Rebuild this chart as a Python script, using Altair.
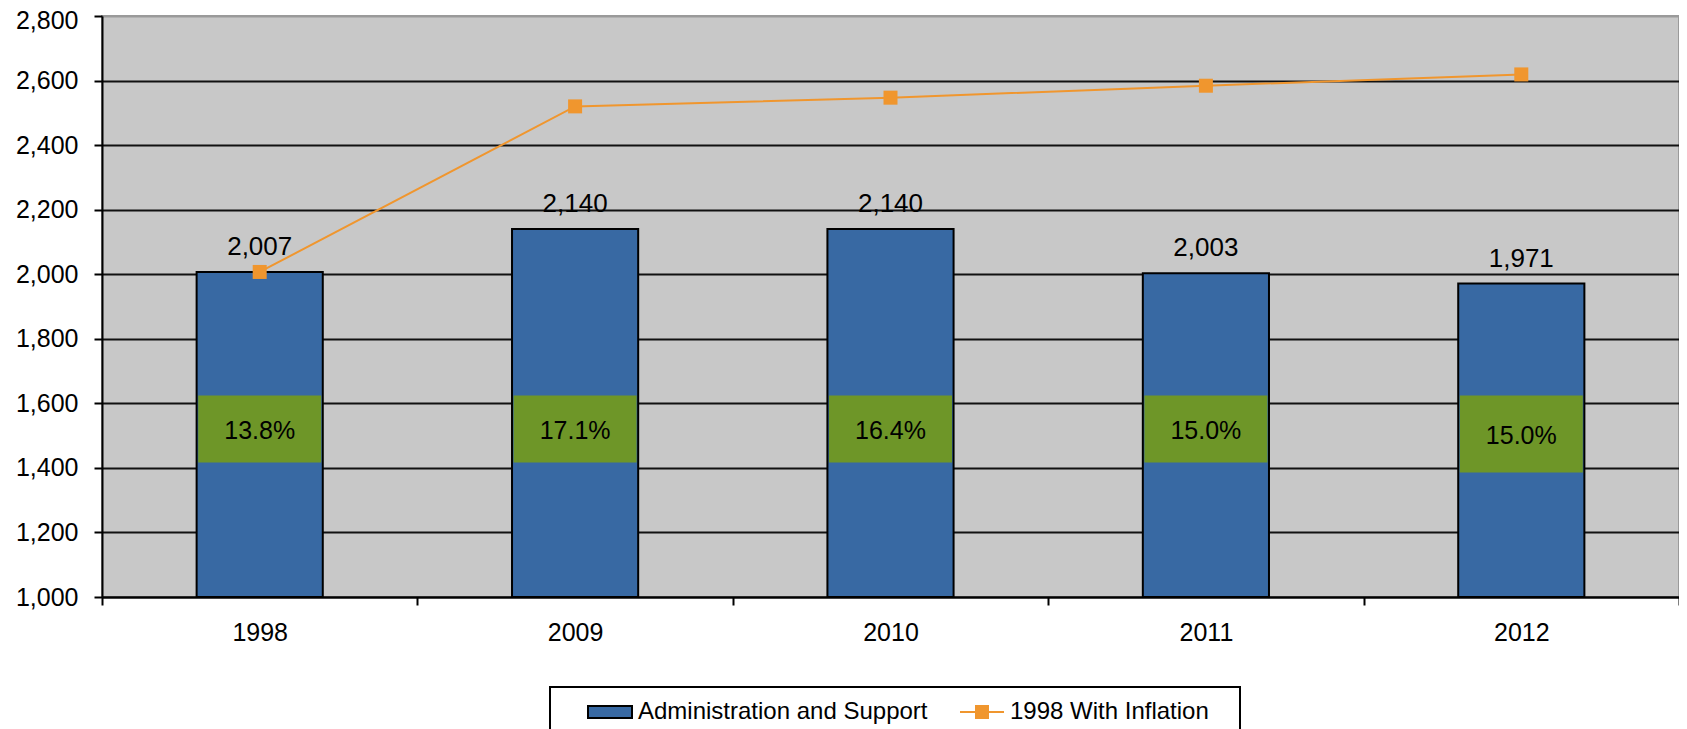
import altair as alt
import pandas as pd

# ---- data ----
years = ["1998", "2009", "2010", "2011", "2012"]
admin_support = [2007, 2140, 2140, 2003, 1971]
with_inflation = [2007, 2520, 2547, 2584, 2619]
share_labels = ["13.8%", "17.1%", "16.4%", "15.0%", "15.0%"]
share_box_low = [1417, 1417, 1417, 1417, 1386]
share_box_high = [1624, 1624, 1624, 1624, 1624]
series_names = ["Administration and Support", "1998 With Inflation"]
y_ticks = [1000, 1200, 1400, 1600, 1800, 2000, 2200, 2400, 2600, 2800]

BLUE = "#3869A3"
ORANGE = "#F0962E"
GREEN = "#6E9628"
GRAY = "#C8C8C8"
FONT = "Liberation Sans"

df = pd.DataFrame({
    "year": years,
    "admin": admin_support,
    "infl": with_inflation,
    "share": share_labels,
    "lo": share_box_low,
    "hi": share_box_high,
})
df["admin_label"] = [f"{v:,}" for v in admin_support]
df["mid"] = (df["lo"] + df["hi"]) / 2

legend_df = pd.DataFrame({"series": series_names, "year": years[:2], "admin": [1000, 1000]})

x_enc = alt.X(
    "year:N", sort=years,
    scale=alt.Scale(paddingInner=0, paddingOuter=0),
    axis=alt.Axis(title=None, labelAngle=0, labelFontSize=25, labelFont=FONT,
                  labelColor="black", labelPadding=15, tickBand="extent",
                  tickSize=8, tickWidth=2, tickColor="black",
                  domainColor="black", domainWidth=2, grid=False),
)
y_scale = alt.Scale(domain=[1000, 2800], nice=False, zero=False)
y_axis = alt.Axis(
    title=None, values=y_ticks, format=",.0f", labelFontSize=25, labelFont=FONT,
    labelColor="black", labelPadding=16, tickSize=8, tickWidth=2, tickColor="black",
    labelOffset=alt.condition("datum.value == 2800", alt.value(4), alt.value(0)),
    domainColor="black", domainWidth=2, grid=True, gridWidth=2,
    gridColor=alt.condition("datum.value == 2800", alt.value("#9a9a9a"), alt.value("#111111")),
)

base = alt.Chart(df)

bars = base.mark_bar(fill=BLUE, stroke="black", strokeWidth=2,
                     width=alt.RelativeBandSize(0.4)).encode(
    x=x_enc,
    y=alt.Y("admin:Q", scale=y_scale, axis=y_axis),
    y2=alt.datum(1000),
)

boxes = base.mark_bar(fill=GREEN, width=123).encode(
    x=x_enc,
    y=alt.Y("lo:Q", scale=y_scale, axis=y_axis),
    y2="hi:Q",
)

pct_text = base.mark_text(fontSize=25, font=FONT, color="black", baseline="middle", dy=2).encode(
    x=x_enc,
    y=alt.Y("mid:Q", scale=y_scale, axis=y_axis),
    text="share:N",
)

val_text = base.mark_text(fontSize=26, font=FONT, color="black", baseline="alphabetic", dy=-17).encode(
    x=x_enc,
    y=alt.Y("admin:Q", scale=y_scale, axis=y_axis),
    text="admin_label:N",
)

line = base.mark_line(color=ORANGE, strokeWidth=2).encode(
    x=x_enc,
    y=alt.Y("infl:Q", scale=y_scale, axis=y_axis),
)

squares = base.mark_square(size=196, color=ORANGE, opacity=1, filled=True).encode(
    x=x_enc,
    y=alt.Y("infl:Q", scale=y_scale, axis=y_axis),
)

bar_path = "M-2.2,-0.6H2.2V0.6H-2.2Z"
line_path = "M-2.2,0H2.2M-0.6,-0.6H0.6V0.6H-0.6Z"

leg = alt.Legend(
    orient="none", legendX=448, legendY=671, direction="horizontal",
    title="\u00a0", titleOrient="left", titleFontSize=2, titlePadding=35,
    strokeColor="black", fillColor="white", padding=13,
    symbolSize=400, symbolStrokeWidth=2,
    labelFontSize=24, labelFont=FONT, labelColor="black", labelOffset=16,
    columnPadding=28, labelLimit=600,
    labelExpr="datum.label == '1998 With Inflation' ? datum.label + '\u2800' : datum.label",
)

legend_layer = alt.Chart(legend_df).transform_filter("false").mark_point(filled=True, opacity=1).encode(
    x=x_enc,
    y=alt.Y("admin:Q", scale=y_scale, axis=y_axis),
    fill=alt.Fill("series:N", scale=alt.Scale(domain=series_names, range=[BLUE, ORANGE]), legend=leg),
    stroke=alt.Stroke("series:N", scale=alt.Scale(domain=series_names, range=["black", ORANGE]), legend=leg),
    shape=alt.Shape("series:N", scale=alt.Scale(domain=series_names, range=[bar_path, line_path]), legend=leg),
)

chart = alt.layer(bars, boxes, pct_text, val_text, line, squares, legend_layer).properties(
    width=1577, height=581,
    padding={"left": 94, "top": 8, "right": 0, "bottom": 132},
    autosize=alt.AutoSizeParams(type="none"),
).configure_view(
    fill=GRAY, stroke="#9a9a9a", strokeWidth=2,
).configure_legend(
    strokeWidth=2,
)

chart.save("out.html", embed_options={"renderer": "svg", "actions": False})
